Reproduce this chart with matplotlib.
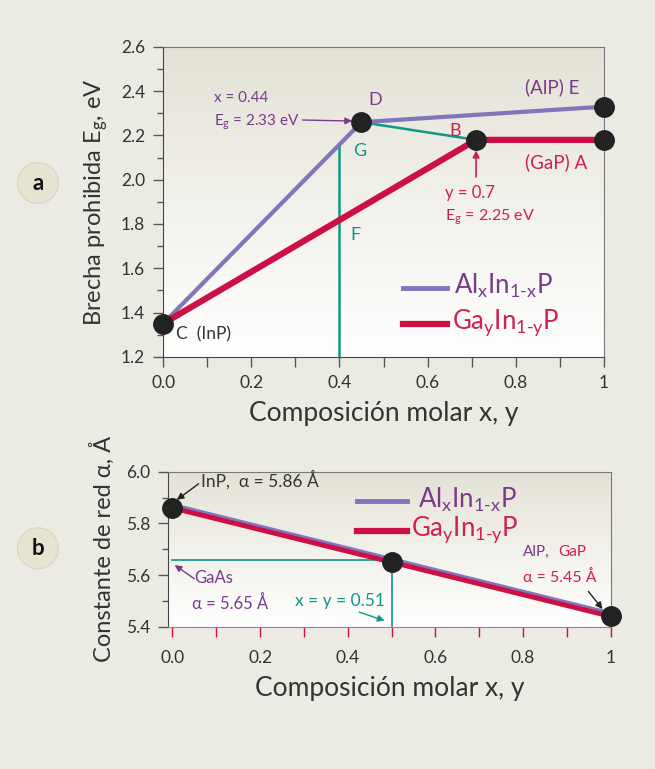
import numpy as np
import matplotlib
matplotlib.use('Agg')
import matplotlib.pyplot as plt
from matplotlib.ticker import MultipleLocator, FixedLocator

plt.rcParams['font.family'] = ['Lato', 'DejaVu Sans']
plt.rcParams['mathtext.fontset'] = 'custom'
plt.rcParams['mathtext.rm'] = 'Lato'
plt.rcParams['mathtext.it'] = 'Lato'

# data
# panel a: band gap vs composition
x_alinp = [0.0, 0.45, 1.0]
eg_alinp = [1.35, 2.26, 2.33]
x_gainp = [0.0, 0.71, 1.0]
eg_gainp = [1.35, 2.18, 2.18]
x_f = 0.40
eg_g = 2.16

# panel b: lattice constant vs composition
x_lat = [0.0, 1.0]
a_alinp = [5.87, 5.45]
a_gainp = [5.86, 5.44]
x_pts = [0.0, 0.50, 1.0]
a_pts = [5.86, 5.65, 5.44]
a_gaas = 5.66

purple = '#8274bd'
red = '#cc0f45'
green = '#12968a'
ptext = '#7a3a8c'
rtext = '#d01f50'
grey = '#555555'

alinp_lab = 'Al$_\\mathrm{x}$In$_\\mathrm{1\\text{-}x}$P'
gainp_lab = 'Ga$_\\mathrm{y}$In$_\\mathrm{1\\text{-}y}$P'

fig = plt.figure(figsize=(6.55, 7.69), dpi=100)
fig.patch.set_facecolor('#ecebe3')

def gradient(ax):
    g = np.linspace(0, 1, 256).reshape(-1, 1)
    cmap = matplotlib.colors.LinearSegmentedColormap.from_list('bg', ['#ffffff', '#e4e2d6'])
    ax.imshow(g, aspect='auto', cmap=cmap, origin='lower', extent=[0, 1, 0, 1],
              transform=ax.transAxes, zorder=0)

# ---------- panel a ----------
ax = fig.add_axes([0.249, 0.536, 0.673, 0.403])
gradient(ax)
ax.set_xlim(0, 1)
ax.set_ylim(1.2, 2.6)
ax.plot(x_alinp, eg_alinp, color=purple, lw=3, zorder=3)
ax.plot(x_gainp, eg_gainp, color=red, lw=4.5, zorder=3)
ax.plot([x_alinp[1], x_gainp[1]], [eg_alinp[1], eg_gainp[1]], color=green, lw=1.8, zorder=2)
ax.plot([x_f, x_f], [1.2, eg_g], color=green, lw=1.8, zorder=2)
ax.plot([0, x_alinp[1], x_alinp[2], x_gainp[1], x_gainp[2]],
        [eg_alinp[0], eg_alinp[1], eg_alinp[2], eg_gainp[1], eg_gainp[2]],
        'o', color='#222222', ms=14, zorder=5, clip_on=False)

ax.xaxis.set_major_locator(FixedLocator([0, 0.2, 0.4, 0.6, 0.8, 1.0]))
ax.set_xticklabels(['0.0', '0.2', '0.4', '0.6', '0.8', '1'])
ax.xaxis.set_minor_locator(MultipleLocator(0.1))
ax.yaxis.set_major_locator(MultipleLocator(0.2))
ax.yaxis.set_minor_locator(MultipleLocator(0.1))
ax.tick_params(which='major', length=7, width=1, color=grey, labelsize=12.5, labelcolor='#333333', pad=6)
ax.tick_params(axis='x', which='minor', length=7, width=1, color=grey)
ax.tick_params(axis='y', which='minor', length=4, width=1, color=grey)
for s in ax.spines.values():
    s.set_color('#777777')
ax.spines['bottom'].set_color('#444444')
ax.spines['left'].set_color('#444444')
ax.set_xlabel('Composición molar x, y', fontsize=19, color='#333333', labelpad=7)
ax.set_ylabel('Brecha prohibida E$_\\mathrm{g}$, eV', fontsize=17, color='#333333', labelpad=8)

ax.text(0.115, 2.37, 'x = 0.44', fontsize=11, color=ptext, va='center')
ax.text(0.115, 2.26, 'E$_\\mathrm{g}$ = 2.33 eV', fontsize=11, color=ptext, va='center')
ax.annotate('', xy=(0.435, 2.265), xytext=(0.31, 2.27),
            arrowprops=dict(arrowstyle='-|>', color=ptext, lw=1, mutation_scale=10))
ax.text(0.465, 2.36, 'D', fontsize=13, color=ptext, va='center')
ax.text(0.43, 2.13, 'G', fontsize=13, color=green, va='center')
ax.text(0.425, 1.75, 'F', fontsize=13, color=green, va='center')
ax.text(0.65, 2.22, 'B', fontsize=13, color=rtext, va='center')
ax.text(0.82, 2.42, '(AlP) E', fontsize=13.5, color=ptext, va='center')
ax.text(0.82, 2.08, '(GaP) A', fontsize=13.5, color=rtext, va='center')
ax.text(0.64, 1.94, 'y = 0.7', fontsize=12, color=rtext, va='center')
ax.text(0.64, 1.83, 'E$_\\mathrm{g}$ = 2.25 eV', fontsize=11.5, color=rtext, va='center')
ax.annotate('', xy=(0.71, 2.145), xytext=(0.71, 2.0),
            arrowprops=dict(arrowstyle='-|>', color=rtext, lw=1.2, mutation_scale=10))
ax.text(0.03, 1.30, 'C  (InP)', fontsize=12.5, color='#333333', va='center')

# legend a
ax.plot([0.545, 0.645], [1.51, 1.51], color=purple, lw=3.5, zorder=3)
ax.plot([0.545, 0.645], [1.35, 1.35], color=red, lw=4.5, zorder=3)
ax.text(0.66, 1.52, alinp_lab, fontsize=18.5, color=ptext, va='center')
ax.text(0.655, 1.355, gainp_lab, fontsize=18.5, color=rtext, va='center')

# ---------- panel b ----------
bx = fig.add_axes([0.2565, 0.185, 0.676, 0.2015])
gradient(bx)
bx.set_xlim(-0.01, 1.0)
bx.set_ylim(5.4, 6.0)
bx.plot(x_lat, a_alinp, color=purple, lw=3.5, zorder=3)
bx.plot(x_lat, a_gainp, color=red, lw=3.5, zorder=3)
bx.plot([0, x_pts[1]], [a_gaas, a_gaas], color=green, lw=1.2, zorder=2)
bx.plot([x_pts[1], x_pts[1]], [5.4, a_pts[1]], color=green, lw=1.2, zorder=2)
bx.plot(x_pts, a_pts, 'o', color='#222222', ms=14, zorder=5, clip_on=False)

bx.xaxis.set_major_locator(FixedLocator([0, 0.2, 0.4, 0.6, 0.8, 1.0]))
bx.set_xticklabels(['0.0', '0.2', '0.4', '0.6', '0.8', '1'])
bx.xaxis.set_minor_locator(MultipleLocator(0.1))
bx.yaxis.set_major_locator(MultipleLocator(0.2))
bx.yaxis.set_minor_locator(MultipleLocator(0.1))
bx.tick_params(axis='y', which='major', length=7, width=1, color=grey, labelsize=12.5, labelcolor='#333333', pad=6)
bx.tick_params(axis='y', which='minor', length=4, width=1, color=grey)
bx.tick_params(axis='x', which='both', length=7, width=1, color=red, labelsize=12.5, labelcolor='#333333', pad=10)
for s in bx.spines.values():
    s.set_color('#777777')
bx.spines['left'].set_color('#444444')
bx.spines['bottom'].set_color('#e0607f')
bx.set_xlabel('Composición molar x, y', fontsize=19, color='#333333', labelpad=7)
bx.set_ylabel('Constante de red α, Å', fontsize=17, color='#333333', labelpad=8)

bx.text(0.065, 5.97, 'InP,  α = 5.86 Å', fontsize=12.5, color='#333333', va='center')
bx.annotate('', xy=(0.005, 5.885), xytext=(0.065, 5.96),
            arrowprops=dict(arrowstyle='-|>', color='#222222', lw=1, mutation_scale=10))
bx.text(0.05, 5.59, 'GaAs', fontsize=12, color=ptext, va='center')
bx.annotate('', xy=(0.0, 5.645), xytext=(0.055, 5.58),
            arrowprops=dict(arrowstyle='-|>', color=ptext, lw=1, mutation_scale=10))
bx.text(0.045, 5.49, 'α = 5.65 Å', fontsize=12, color=ptext, va='center')
bx.text(0.28, 5.50, 'x = y = 0.51', fontsize=12.5, color=green, va='center')
bx.annotate('', xy=(0.49, 5.42), xytext=(0.42, 5.46),
            arrowprops=dict(arrowstyle='-|>', color=green, lw=1, mutation_scale=10))
bx.text(0.8, 5.69, 'AlP,', fontsize=11, color=ptext, va='center')
bx.text(0.88, 5.69, 'GaP', fontsize=11, color=rtext, va='center')
bx.text(0.8, 5.59, 'α = 5.45 Å', fontsize=11.5, color=rtext, va='center')
bx.annotate('', xy=(0.985, 5.46), xytext=(0.945, 5.545),
            arrowprops=dict(arrowstyle='-|>', color='#222222', lw=1, mutation_scale=10))

# legend b
bx.plot([0.42, 0.535], [5.885, 5.885], color=purple, lw=3.5, zorder=3)
bx.plot([0.42, 0.535], [5.77, 5.77], color=red, lw=4.5, zorder=3)
bx.text(0.56, 5.89, alinp_lab, fontsize=18.5, color=ptext, va='center')
bx.text(0.545, 5.775, gainp_lab, fontsize=18.5, color=rtext, va='center')

# panel letters
for lab, yy in [('a', 0.762), ('b', 0.287)]:
    fig.text(0.058, yy, lab, fontsize=16, fontweight='bold', color='#111111',
             ha='center', va='center',
             bbox=dict(boxstyle='circle,pad=0.45', fc='#e6e3d3', ec='#d8d5c4', lw=0.8))

fig.savefig('out.png', dpi=100, facecolor=fig.get_facecolor())
